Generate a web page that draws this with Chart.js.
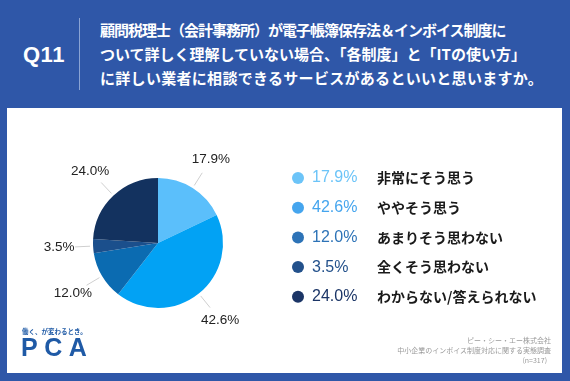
<!DOCTYPE html>
<html>
<head>
<meta charset="utf-8">
<script src="https://cdn.jsdelivr.net/npm/chart.js@4.4.0/dist/chart.umd.min.js"></script>
<style>
  html, body { margin: 0; padding: 0; }
  body { width: 570px; height: 381px; background: #2f57a8; position: relative; overflow: hidden;
         font-family: "Noto Sans CJK JP", "Noto Sans", sans-serif; }
  #q { position: absolute; left: 23px; top: 42px; color: #fff; font: bold 22px "Liberation Sans", "Noto Sans", sans-serif; letter-spacing: 0.5px; }
  #sep { position: absolute; left: 79px; top: 18px; width: 1px; height: 72px; background: #8aa3d4; }
  #title { position: absolute; left: 100px; top: 18px; color: #fff; font-weight: bold; font-size: 15px; line-height: 24px; white-space: nowrap; }
  #panel { position: absolute; left: 7px; top: 108px; width: 555px; height: 265px; background: #fff; }
  #chart { position: absolute; left: 0; top: 0; }
  #tag { position: absolute; left: 15px; top: 218px; color: #1f5aa6; font-weight: bold; font-size: 6.5px; white-space: nowrap; }
  #logo { position: absolute; left: 14px; top: 225px; color: #1f5aa6; font: bold 25px "Liberation Sans", sans-serif; letter-spacing: 6.5px; }
  #src { position: absolute; right: 11px; top: 227px; color: #9a9a9a; font-size: 7px; line-height: 10px; text-align: right; white-space: nowrap; }
</style>
</head>
<body>
<div id="q">Q11</div>
<div id="sep"></div>
<div id="title">
  <div style="letter-spacing:-1px">顧問税理士（会計事務所）が電子帳簿保存法＆インボイス制度に</div>
  <div>ついて詳しく理解していない場合、「各制度」と「ITの使い方」</div>
  <div style="letter-spacing:0.3px">に詳しい業者に相談できるサービスがあるといいと思いますか。</div>
</div>
<div id="panel">
  <canvas id="chart" width="555" height="265"></canvas>
  <div id="tag">働く、が変わるとき。</div>
  <div id="logo">PCA</div>
  <div id="src">ピー・シー・エー株式会社<br>中小企業のインボイス制度対応に関する実態調査<br><span style="margin-right:4px">(n=317)</span></div>
</div>
<script>
// survey answers (n=317)
var labels = ["非常にそう思う", "ややそう思う", "あまりそう思わない", "全くそう思わない", "わからない/答えられない"];
var values = [17.9, 42.6, 12.0, 3.5, 24.0];

var sliceColors = ["#5bbffb", "#02a2f4", "#0b6bb1", "#1b4f8c", "#13325f"];
var legendColors = ["#6cc4f8", "#45a5ee", "#2d73b7", "#23518b", "#1b3566"];

// percentage labels outside the pie, with a short leader line
var outLabels = {
  id: 'outLabels',
  afterDatasetsDraw: function(chart) {
    var ctx = chart.ctx;
    var meta = chart.getDatasetMeta(0);
    ctx.save();
    meta.data.forEach(function(arc, i) {
      var a = (arc.startAngle + arc.endAngle) / 2;
      var r = arc.outerRadius;
      var cx = arc.x, cy = arc.y;
      ctx.strokeStyle = "#cfcfcf";
      ctx.lineWidth = 1;
      ctx.beginPath();
      ctx.moveTo(cx + Math.cos(a) * (r + 3), cy + Math.sin(a) * (r + 3));
      ctx.lineTo(cx + Math.cos(a) * (r + 18), cy + Math.sin(a) * (r + 18));
      ctx.stroke();
      ctx.fillStyle = "#222";
      ctx.font = "500 13.5px 'Liberation Sans', 'Noto Sans', sans-serif";
      ctx.textAlign = "center";
      ctx.textBaseline = "middle";
      ctx.fillText(values[i].toFixed(1) + "%", cx + Math.cos(a) * (r + 34), cy + Math.sin(a) * (r + 34));
    });
    ctx.restore();
  }
};

// legend on the right: dot, coloured percent, label
var sideLegend = {
  id: 'sideLegend',
  afterDraw: function(chart) {
    var ctx = chart.ctx;
    ctx.save();
    ctx.textBaseline = "middle";
    labels.forEach(function(lab, i) {
      var y = 70 + i * 29.7;
      ctx.fillStyle = legendColors[i];
      ctx.beginPath();
      ctx.arc(291, y, 6, 0, Math.PI * 2);
      ctx.fill();
      ctx.font = "16px 'Liberation Sans', 'Noto Sans', sans-serif";
      ctx.textAlign = "left";
      ctx.fillText(values[i].toFixed(1) + "%", 305, y);
      ctx.fillStyle = "#1a1a1a";
      ctx.font = "bold 14px 'Noto Sans CJK JP', sans-serif";
      ctx.fillText(lab, 370, y);
    });
    ctx.restore();
  }
};

new Chart(document.getElementById("chart"), {
  type: 'pie',
  data: {
    labels: labels,
    datasets: [{
      data: values,
      backgroundColor: sliceColors,
      borderWidth: 0
    }]
  },
  options: {
    responsive: false,
    animation: false,
    layout: { padding: { left: 86, right: 339, top: 70, bottom: 65 } },
    plugins: {
      legend: { display: false },
      tooltip: { enabled: false }
    }
  },
  plugins: [outLabels, sideLegend]
});
</script>
</body>
</html>
